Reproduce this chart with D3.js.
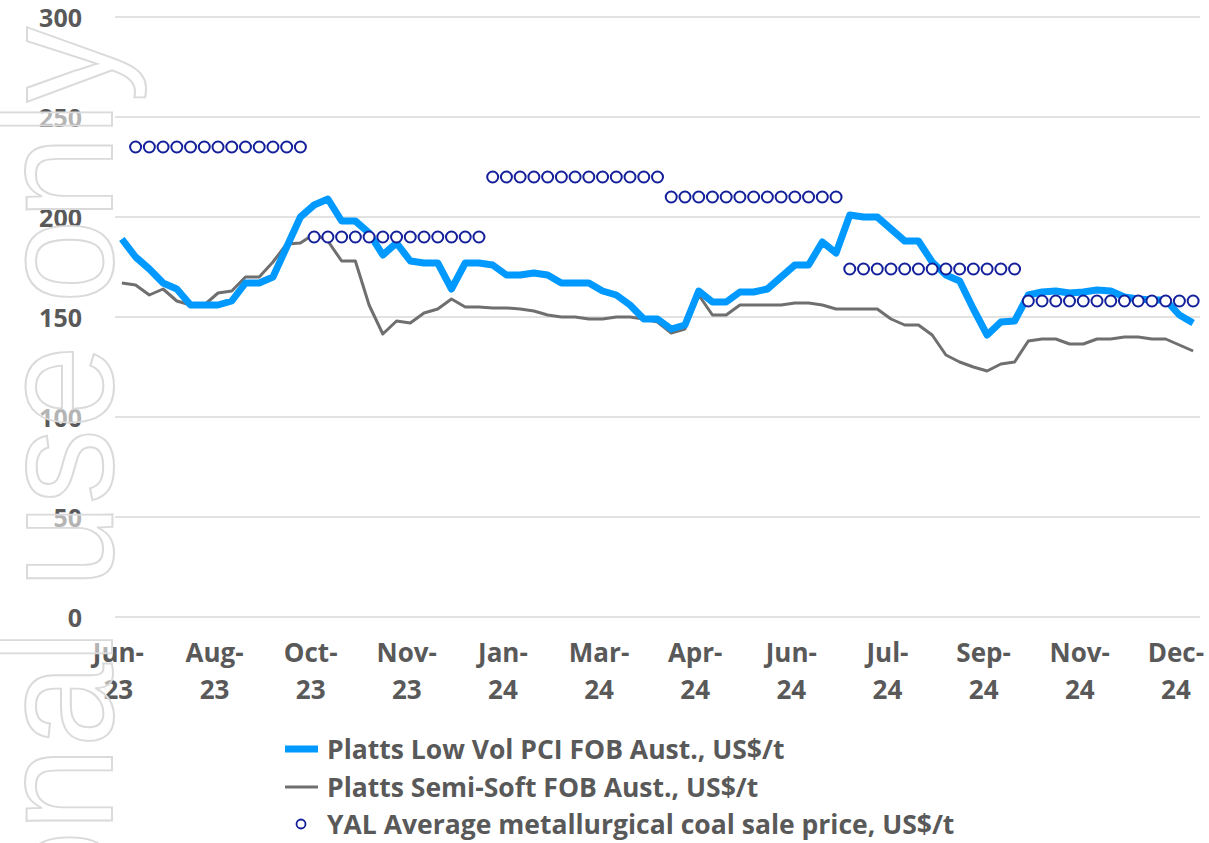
<!DOCTYPE html>
<html>
<head>
<meta charset="utf-8">
<script src="https://cdn.jsdelivr.net/npm/d3@7"></script>
<style>
  html, body { margin: 0; padding: 0; background: #fff; }
  svg { display: block; font-family: 'Open Sans', sans-serif; }
</style>
</head>
<body>
<div id="chart"></div>
<script>
// tick labels shown under every 7th weekly point
const tickLabels = ['Jun-23', 'Aug-23', 'Oct-23', 'Nov-23', 'Jan-24', 'Mar-24',
  'Apr-24', 'Jun-24', 'Jul-24', 'Sep-24', 'Nov-24', 'Dec-24'];

const seriesNames = [
  'Platts Low Vol PCI FOB Aust., US$/t',
  'Platts Semi-Soft FOB Aust., US$/t',
  'YAL Average metallurgical coal sale price, US$/t'
];

// weekly prices
const pciValues = [
  189, 180, 174, 167, 164, 156, 156, 156, 158, 167,
  167, 170, 185, 200, 206, 209, 198, 198, 192, 181,
  187, 178, 177, 177, 164, 177, 177, 176, 171, 171,
  172, 171, 167, 167, 167, 163, 161, 156, 149, 149,
  144, 146, 163, 157.5, 157.5, 162.5, 162.5, 164, 170, 176,
  176, 187.5, 182, 201, 200, 200, 194, 188, 188, 177.5,
  171, 168, 154, 141, 147.5, 148, 161, 162.5, 163, 162,
  162.5, 163.5, 163, 160, 159, 158.5, 158.5, 151, 147
];

const semiSoftValues = [
  167, 166, 161, 164, 158, 156, 156, 162, 163, 170,
  170, 177.5, 186.5, 187, 191.5, 188, 178, 178, 156, 141.5,
  148, 147, 152, 154, 159, 155, 155, 154.5, 154.5, 154,
  153, 151, 150, 150, 149, 149, 150, 150, 149, 147.5,
  142, 144, 161, 151, 151, 156, 156, 156, 156, 157,
  157, 156, 154, 154, 154, 154, 149, 146, 146, 141,
  131, 127.5, 125, 123, 126.5, 127.5, 138, 139, 139, 136.5,
  136.5, 139, 139, 140, 140, 139, 139, 136, 133
];

const yalValues = [
  null,
  235, 235, 235, 235, 235, 235, 235, 235, 235, 235, 235, 235, 235,
  190, 190, 190, 190, 190, 190, 190, 190, 190, 190, 190, 190, 190,
  220, 220, 220, 220, 220, 220, 220, 220, 220, 220, 220, 220, 220,
  210, 210, 210, 210, 210, 210, 210, 210, 210, 210, 210, 210, 210,
  174, 174, 174, 174, 174, 174, 174, 174, 174, 174, 174, 174, 174,
  158, 158, 158, 158, 158, 158, 158, 158, 158, 158, 158, 158, 158
];

const yTicks = [0, 50, 100, 150, 200, 250, 300];

const width = 1209, height = 843;
const plot = {left: 115, right: 1200, top: 17, bottom: 617};
const textColor = '#595959';
const font = "'Open Sans', sans-serif";
const colors = {pci: '#0099ff', semi: '#6f6f6f', yal: '#13209a'};

const svg = d3.select('#chart').append('svg')
  .attr('width', width)
  .attr('height', height);

const idx = d3.range(pciValues.length);

const x = d3.scalePoint()
  .domain(idx)
  .range([plot.left, plot.right])
  .padding(0.5);

const y = d3.scaleLinear()
  .domain([0, 300])
  .range([plot.bottom, plot.top]);

// gridlines
svg.append('g')
  .attr('class', 'grid')
  .selectAll('line')
  .data(yTicks)
  .enter().append('line')
    .attr('x1', plot.left)
    .attr('x2', plot.right)
    .attr('y1', d => y(d))
    .attr('y2', d => y(d))
    .attr('stroke', '#d9d9d9')
    .attr('stroke-width', 1.5);

// Y axis
const yAxis = svg.append('g')
  .attr('class', 'axis axis--y')
  .attr('transform', 'translate(82,0)')
  .call(d3.axisLeft(y).tickValues(yTicks).tickSize(0).tickPadding(0));
yAxis.select('.domain').remove();
yAxis.selectAll('text')
  .attr('fill', textColor)
  .attr('font-size', '25px')
  .attr('font-weight', 'bold')
  .attr('font-family', font)
  .attr('dy', '0.36em');

// X axis, labels split on two lines
const tickIdx = d3.range(0, pciValues.length, 7);
const xAxis = svg.append('g')
  .attr('class', 'axis axis--x')
  .attr('transform', 'translate(-4,0)')
  .call(d3.axisBottom(x).tickValues(tickIdx).tickSize(0)
    .tickFormat((d, i) => tickLabels[i]));
xAxis.select('.domain').remove();
xAxis.selectAll('text').each(function(d, i) {
  const t = d3.select(this);
  const parts = tickLabels[i].split('-');
  t.text(null)
    .attr('y', null)
    .attr('dy', null)
    .attr('fill', textColor)
    .attr('font-size', '26px')
    .attr('font-weight', 'bold')
    .attr('font-family', font)
    .attr('text-anchor', 'middle');
  t.append('tspan').attr('x', 0).attr('y', 662).text(parts[0] + '-');
  t.append('tspan').attr('x', 0).attr('y', 699).text(parts[1]);
});

const line = d3.line()
  .x((d, i) => x(i))
  .y(d => y(d));

// Semi-soft line
svg.append('path')
  .datum(semiSoftValues)
  .attr('class', 'line-semi')
  .attr('d', line)
  .attr('fill', 'none')
  .attr('stroke', colors.semi)
  .attr('stroke-width', 3)
  .attr('stroke-linejoin', 'round');

// PCI line
svg.append('path')
  .datum(pciValues)
  .attr('class', 'line-pci')
  .attr('d', line)
  .attr('fill', 'none')
  .attr('stroke', colors.pci)
  .attr('stroke-width', 7)
  .attr('stroke-linejoin', 'round');

// YAL markers
svg.append('g')
  .attr('class', 'dots')
  .selectAll('circle')
  .data(yalValues.map((v, i) => ({v, i})).filter(d => d.v !== null))
  .enter().append('circle')
    .attr('cx', d => x(d.i))
    .attr('cy', d => y(d.v))
    .attr('r', 5.5)
    .attr('fill', '#fff')
    .attr('stroke', colors.yal)
    .attr('stroke-width', 2);

// Legend
const legendRows = [749, 787, 824];
const legend = svg.append('g').attr('class', 'legends');
const items = legend.selectAll('g')
  .data(seriesNames)
  .enter().append('g')
    .attr('transform', (d, i) => 'translate(0,' + legendRows[i] + ')');

items.filter((d, i) => i < 2).append('line')
  .attr('x1', 285).attr('x2', 318)
  .attr('y1', 0).attr('y2', 0)
  .attr('stroke', (d, i) => i === 0 ? colors.pci : colors.semi)
  .attr('stroke-width', (d, i) => i === 0 ? 7 : 3);

items.filter((d, i) => i === 2).append('circle')
  .attr('cx', 301).attr('cy', 0).attr('r', 4.5)
  .attr('fill', '#fff')
  .attr('stroke', colors.yal)
  .attr('stroke-width', 1.8);

items.append('text')
  .attr('x', 327)
  .attr('dy', '0.36em')
  .attr('fill', textColor)
  .attr('font-size', '26.5px')
  .attr('font-weight', 'bold')
  .attr('font-family', font)
  .text(d => d);

// watermark, rotated, outlined
svg.append('text')
  .attr('class', 'watermark')
  .attr('transform', 'translate(112,27) rotate(-90) scale(0.93,1)')
  .attr('text-anchor', 'end')
  .attr('font-family', "'Liberation Sans', Arial, sans-serif")
  .attr('font-size', '162px')
  .attr('fill', '#fff')
  .attr('fill-opacity', 0.55)
  .attr('stroke', '#dadada')
  .attr('stroke-width', 2)
  .text('For personal use only');
</script>
</body>
</html>
